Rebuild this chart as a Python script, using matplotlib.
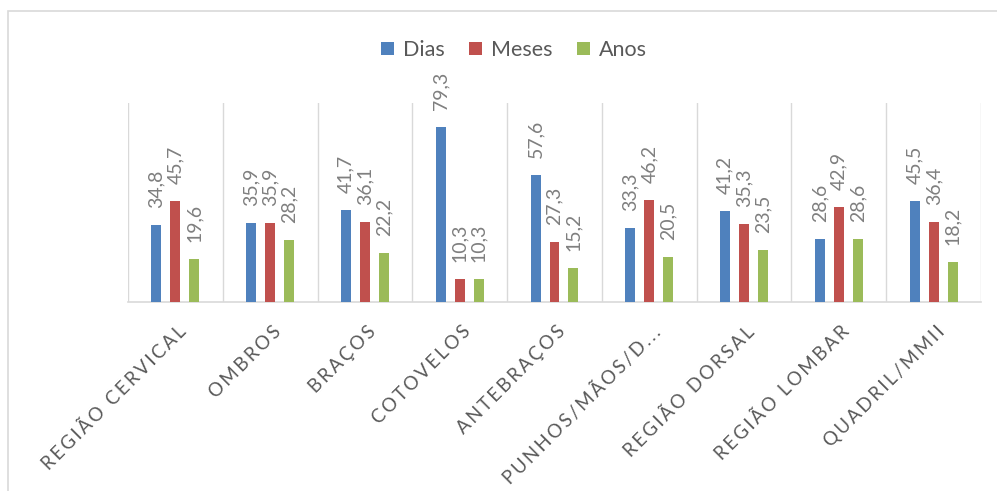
import matplotlib
matplotlib.use("Agg")
import matplotlib.pyplot as plt
import matplotlib.transforms as mtransforms
from matplotlib.patches import Rectangle
import numpy as np

# data
categorias = ["REGIÃO CERVICAL", "OMBROS", "BRAÇOS", "COTOVELOS", "ANTEBRAÇOS",
              "PUNHOS/MÃOS/D...", "REGIÃO DORSAL", "REGIÃO LOMBAR", "QUADRIL/MMII"]
dias  = [34.8, 35.9, 41.7, 79.3, 57.6, 33.3, 41.2, 28.6, 45.5]
meses = [45.7, 35.9, 36.1, 10.3, 27.3, 46.2, 35.3, 42.9, 36.4]
anos  = [19.6, 28.2, 22.2, 10.3, 15.2, 20.5, 23.5, 28.6, 18.2]
series = [("Dias", dias, "#4f81bd"), ("Meses", meses, "#c0504d"), ("Anos", anos, "#9bbb59")]

FONT = ["Lato", "DejaVu Sans"]
GRID = "#d9d9d9"
W, H = 997, 491

fig = plt.figure(figsize=(W / 100, H / 100), dpi=100)
fig.patch.set_facecolor("white")
# chart-area border (cropped on the right and bottom like the screenshot)
fig.patches.append(Rectangle((8 / W, -0.1), 1.2, 1.1 - 11 / H, transform=fig.transFigure,
                             fill=False, ec=GRID, lw=1.2))

ax = fig.add_axes([128 / W, 1 - 302 / H, (981 - 128) / W, (302 - 103) / H])
x = np.arange(len(categorias))
for k, (nome, vals, cor) in enumerate(series):
    pos = x + (k - 1) * 0.2
    bars = ax.bar(pos, vals, width=0.105, color=cor, label=nome, zorder=3)
    for b, v in zip(bars, vals):
        ax.annotate(("%.1f" % v).replace(".", ","), (b.get_x() + b.get_width() / 2, v),
                    xytext=(0, 17), textcoords="offset pixels", rotation=90,
                    ha="center", va="bottom", color="#7f7f7f", fontsize=14, family=FONT)

ax.set_xlim(-0.5, len(categorias) - 0.5)
ax.set_ylim(0, 90)
ax.set_yticks([])
for b in np.arange(-0.5, len(categorias), 1.0):
    ax.axvline(b, color=GRID, lw=1, zorder=1)
for s in ["top", "left", "right"]:
    ax.spines[s].set_visible(False)
ax.spines["bottom"].set_color(GRID)
ax.spines["bottom"].set_linewidth(1.2)

# letter-spaced category labels, 45 degrees like Excel
espacado = ["\u2009".join(c) for c in categorias]
ax.set_xticks(x)
ax.set_xticklabels(espacado, rotation=45, ha="right", rotation_mode="anchor",
                   color="#595959", fontsize=13.5, family=FONT)
ax.tick_params(axis="x", length=0, pad=15)
shift = mtransforms.ScaledTranslation(2 / 100, 0, fig.dpi_scale_trans)
for lab in ax.get_xticklabels():
    lab.set_transform(lab.get_transform() + shift)

leg = fig.legend(loc="center", bbox_to_anchor=(514 / W, 1 - 50 / H), ncol=3, frameon=False,
                 prop={"family": FONT, "size": 15.5}, handlelength=0.6, handleheight=0.6,
                 handletextpad=0.45, columnspacing=1.1, labelcolor="#595959")

fig.savefig("out.png", dpi=100, facecolor="white")
